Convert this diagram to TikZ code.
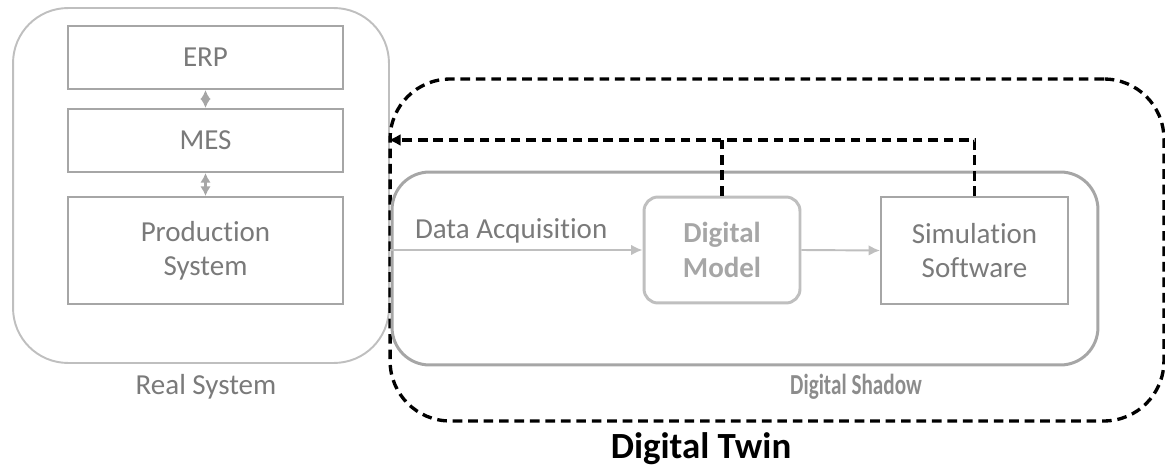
\documentclass[tikz,border=0pt]{standalone}
\usepackage{fontspec}
\usepackage{graphicx}
\setmainfont{Carlito}[Ligatures={NoCommon}]
\usetikzlibrary{arrows.meta}
\definecolor{txtgray}{HTML}{7A7A7A}
\definecolor{linegray}{HTML}{A6A6A6}
\definecolor{lightgray2}{HTML}{BFBFBF}
\definecolor{shadowtxt}{HTML}{8C8C8C}
\tikzset{
  sysbox/.style={draw=linegray, line width=1.1pt, rectangle, text=txtgray, align=center, font=\fontsize{16.5}{19.5}\selectfont, minimum width=5.5cm},
  twinline/.style={draw=black, line width=1.9pt, dash pattern=on 5.5pt off 3.3pt},
  smallarrow/.style={draw=linegray, line width=1.3pt, {Latex[length=5.5pt,width=6pt]}-{Latex[length=5.5pt,width=6pt]}},
  flowarrow/.style={draw=lightgray2, line width=1.1pt, -{Latex[length=6.5pt,width=6pt]}},
  lbl/.style={text=txtgray, font=\fontsize{16.5}{19.5}\selectfont},
}
\begin{document}
\begin{tikzpicture}[x=0.02cm,y=-0.02cm]
\useasboundingbox (0,0) rectangle (1165,466);
% Real system container
\node[draw=lightgray2, line width=1.1pt, rounded corners=1.1cm, minimum width=7.52cm, minimum height=7.1cm] (real) at (201,185.5) {};
\node[sysbox, minimum height=1.26cm] (erp) at (205.5,57.5) {ERP};
\node[sysbox, minimum height=1.26cm] (mes) at (205.5,140.5) {MES};
\node[sysbox, minimum height=2.14cm] (prod) at (205.5,250.5) {Production\\System};
\draw[smallarrow] (erp.south) -- (mes.north);
\draw[smallarrow] (mes.south) -- (prod.north);
\node[lbl] (reallbl) at (206,387) {Real System};
% Digital twin container
\node[twinline, rounded corners=1.2cm, minimum width=15.48cm, minimum height=6.84cm] (twin) at (777,250) {};
% Digital shadow container
\node[draw=linegray, line width=1.7pt, rounded corners=0.75cm, minimum width=14.12cm, minimum height=3.86cm] (shadow) at (745,268.5) {};
\node[draw=lightgray2, line width=1.7pt, rounded corners=0.28cm, minimum width=3.12cm, minimum height=2.12cm, text=linegray, align=center, font=\bfseries\fontsize{16.5}{19.5}\selectfont] (model) at (722,250) {Digital\\Model};
\node[sysbox, minimum width=3.74cm, minimum height=2.14cm] (sim) at (974.5,250.5) {Simulation\\Software};
\draw[flowarrow] (real.east |- model.west) -- node[lbl, above=0pt, pos=0.48] (dalbl) {Data Acquisition} (model.west);
\draw[flowarrow] (model.east) -- (sim.west);
% feedback
\coordinate (fby) at (0,140);
\draw[twinline, -{Latex[length=7pt,width=7pt]}] (sim.north) |- (twin.west |- fby);
\draw[twinline] (model.north) -- (model.north |- fby);
\node[text=shadowtxt, font=\bfseries\fontsize{16.5}{19.5}\selectfont] (shadowlbl) at (856,387) {\scalebox{0.73}[1]{Digital Shadow}};
\node[font=\bfseries\fontsize{21}{24}\selectfont] (twinlbl) at (701,449) {Digital Twin};
\end{tikzpicture}
\end{document}
